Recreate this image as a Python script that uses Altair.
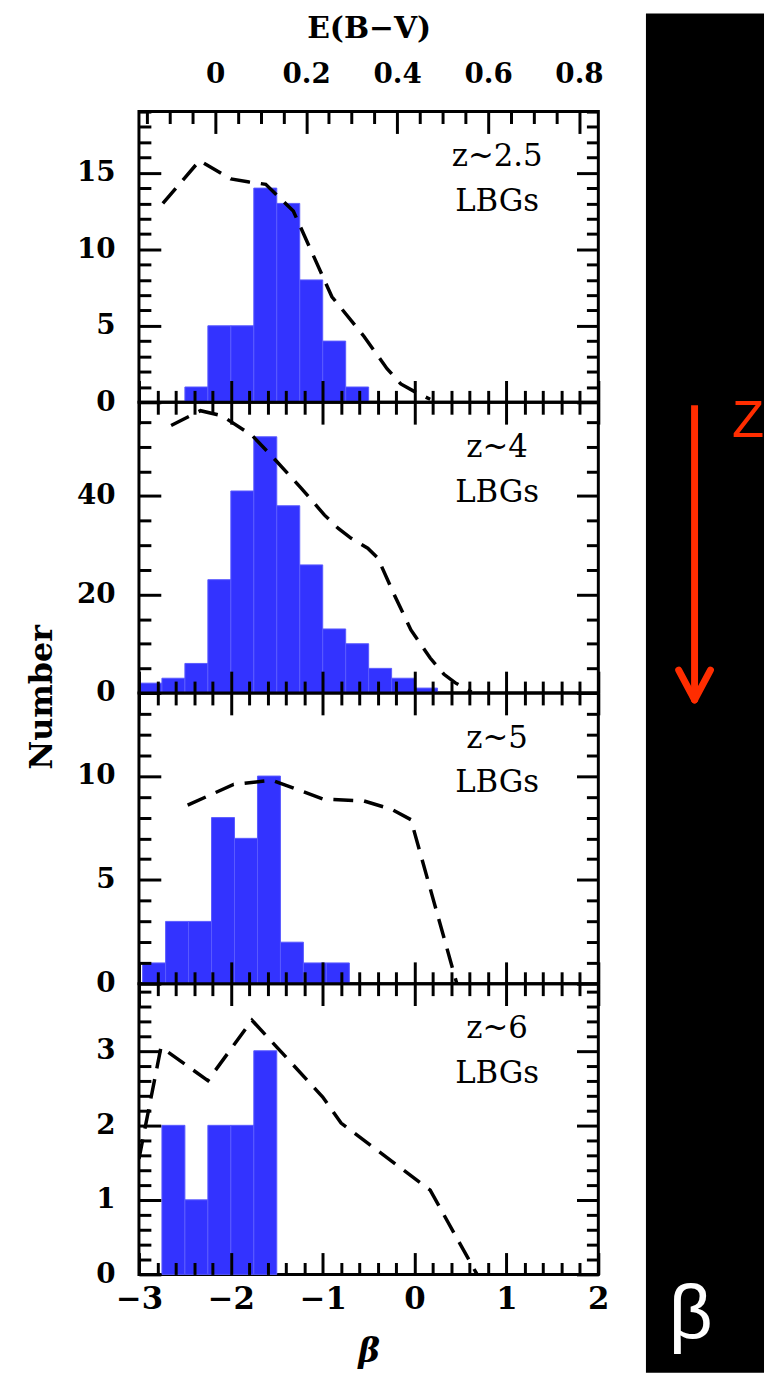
import altair as alt
import pandas as pd

# ---------------- data ----------------
BIN_WIDTH = 0.25

z25_bin_lo = [-2.5, -2.25, -2.0, -1.75, -1.5, -1.25, -1.0, -0.75]
z25_count = [1, 5, 5, 14, 13, 8, 4, 1]
z25_line_beta = [-2.74, -2.34, -2.0, -1.8, -1.62, -1.32, -0.9, -0.55, -0.3, -0.15, 0.0, 0.17]
z25_line_num = [13.0, 15.8, 14.6, 14.4, 14.25, 12.5, 6.9, 4.3, 2.2, 1.2, 0.7, 0.2]

z4_bin_lo = [-3.0, -2.75, -2.5, -2.25, -2.0, -1.75, -1.5, -1.25, -1.0, -0.75, -0.5, -0.25, 0.0]
z4_count = [2, 3, 6, 23, 41, 52, 38, 26, 13, 10, 5, 3, 1]
z4_line_beta = [-2.65, -2.33, -2.1, -1.77, -1.5, -1.23, -0.98, -0.83, -0.69, -0.51, -0.4,
                -0.22, -0.04, 0.17, 0.32, 0.44, 0.62]
z4_line_num = [54.3, 57.3, 56.3, 52.3, 47.0, 41.5, 36.1, 33.4, 31.4, 29.4, 27.4,
               19.9, 12.8, 7.1, 3.8, 2.1, 0.2]

z5_bin_lo = [-2.96, -2.71, -2.46, -2.21, -1.96, -1.71, -1.46, -1.21, -0.96]
z5_count = [1, 3, 3, 8, 7, 10, 2, 1, 1]
z5_line_beta = [-2.47, -1.97, -1.55, -1.0, -0.55, -0.25, -0.04, 0.46]
z5_line_num = [8.6, 9.6, 9.8, 8.9, 8.8, 8.4, 7.9, 0.0]

z6_bin_lo = [-2.75, -2.5, -2.25, -2.0, -1.75]
z6_count = [2, 1, 2, 2, 3]
z6_line_beta = [-3.0, -2.76, -2.25, -1.77, -1.5, -1.0, -0.8, 0.17, 0.68]
z6_line_num = [1.55, 3.05, 2.6, 3.41, 3.05, 2.38, 2.03, 1.13, 0.0]

panel_labels = [["z~2.5", "LBGs"], ["z~4", "LBGs"], ["z~5", "LBGs"], ["z~6", "LBGs"]]
y_max = [19, 59, 14, 3.9]
y_major = [[0, 5, 10, 15], [0, 20, 40], [0, 5, 10], [0, 1, 2, 3]]
y_major_step = [5, 20, 5, 1]
y_minor_step = [1, 5, 1, 0.2]
beta_major = [-3, -2, -1, 0, 1, 2]
beta_domain = [-3, 2]
ebv_major = [0, 0.2, 0.4, 0.6, 0.8]
# E(B-V) <-> beta conversion
EBV0_BETA = -2.17      # beta at E(B-V)=0
BETA_PER_EBV = 4.95    # beta units per unit E(B-V)

bins = [(z25_bin_lo, z25_count), (z4_bin_lo, z4_count), (z5_bin_lo, z5_count), (z6_bin_lo, z6_count)]
lines = [(z25_line_beta, z25_line_num), (z4_line_beta, z4_line_num),
         (z5_line_beta, z5_line_num), (z6_line_beta, z6_line_num)]

# ---------------- style ----------------
W = 463
H = 293
BLUE = "#3333ff"
RED = "#ff2d00"
SERIF = "DejaVu Serif"


def steps(lo, hi, step):
    n = int(round((hi - lo) / step))
    return [round(lo + k * step, 4) for k in range(n + 1)]


beta_ticks = steps(-3, 2, 0.2)
ebv_tick_vals = steps(-0.15, 0.8, 0.05)
ebv_ticks_beta = [round(EBV0_BETA + e * BETA_PER_EBV, 4) for e in ebv_tick_vals]
ebv_major_beta = [round(EBV0_BETA + e * BETA_PER_EBV, 4) for e in ebv_major]
EBV_EXPR = f"((datum.value - ({EBV0_BETA})) / {BETA_PER_EBV})"


def tsize(expr_val, major):
    return {"condition": {"test": f"abs({expr_val} / {major} - round({expr_val} / {major})) < 0.001",
                          "value": 22}, "value": 12}


def tick_axis(orient, offset, values, size):
    return alt.Axis(orient=orient, offset=offset, values=values, labels=False, domain=False,
                    grid=False, ticks=True, tickSize=size, tickWidth=3,
                    tickColor="black", title=None, zindex=2)


def side_decor():
    # black strip on the right with the red redshift arrow, "Z" and "β"
    one = alt.Chart(pd.DataFrame({"k": [0]}))
    bg = one.mark_rect(color="black").encode(
        x=alt.value(511), x2=alt.value(630), y=alt.value(-99), y2=alt.value(1271))
    shaft = one.mark_rule(color=RED, strokeWidth=7).encode(
        x=alt.value(560), y=alt.value(296), y2=alt.value(593))
    head_l = one.mark_rule(color=RED, strokeWidth=7, strokeCap="round").encode(
        x=alt.value(544), x2=alt.value(560), y=alt.value(563), y2=alt.value(593))
    head_r = one.mark_rule(color=RED, strokeWidth=7, strokeCap="round").encode(
        x=alt.value(576), x2=alt.value(560), y=alt.value(563), y2=alt.value(593))
    ztxt = one.mark_text(font="Liberation Sans", fontSize=53, color=RED, align="center",
                         baseline="middle").encode(x=alt.value(614), y=alt.value(312), text=alt.value("Z"))
    btxt = one.mark_text(font="Liberation Sans", fontSize=77, color="white", align="center",
                         baseline="alphabetic").encode(x=alt.value(556), y=alt.value(1236),
                                                       text=alt.value("β"))
    return [bg, shaft, head_l, head_r, ztxt, btxt]


def panel(i):
    lo, cnt = bins[i]
    bdf = pd.DataFrame({"b": lo, "v": cnt})
    bdf["hi"] = bdf["b"] + BIN_WIDTH
    lb, ln = lines[i]
    ldf = pd.DataFrame({"b": lb, "v": ln})
    xs = alt.Scale(domain=beta_domain, nice=False, zero=False)
    ys = alt.Scale(domain=[0, y_max[i]], nice=False, zero=True)
    yticks = steps(0, y_max[i], y_minor_step[i])
    ysize = tsize("datum.value", y_major_step[i])
    xsize = tsize("datum.value", 1)
    last = i == 3

    if last:
        x_lab = alt.Axis(orient="bottom", values=beta_major, labels=True, ticks=False, tickSize=0,
                         domain=False, grid=False, labelFlush=False, labelOverlap=False,
                         labelPadding=10, labelFont=SERIF, labelFontSize=31, labelFontWeight="bold",
                         labelColor="black", format="d", title="β", titleFont=SERIF,
                         titleFontSize=33, titleFontStyle="italic", titleFontWeight="bold",
                         titlePadding=22, titleColor="black")
    else:
        x_lab = None
    ykw = dict(orient="left", values=y_major[i], labels=True, ticks=False, tickSize=0, domain=False,
               grid=False, labelFlush=False, labelOverlap=False, labelPadding=24, labelFont=SERIF,
               labelFontSize=28, labelFontWeight="bold", labelColor="black")
    if i == 1:
        y_lab = alt.Axis(title="Number", titleFont=SERIF, titleFontSize=32, titleFontWeight="bold",
                         titleColor="black", titleX=-81, titleY=H + 4, **ykw)
    else:
        y_lab = alt.Axis(title=None, **ykw)

    bars = alt.Chart(bdf).mark_rect(color=BLUE, stroke="#5a5aff", strokeWidth=1).encode(
        x=alt.X("b:Q", scale=xs, axis=x_lab),
        x2="hi:Q",
        y=alt.Y("v:Q", scale=ys, axis=y_lab),
        y2=alt.datum(0),
    )
    line = alt.Chart(ldf).mark_line(color="black", strokeWidth=3.5, strokeDash=[20, 11], clip=True).encode(
        x=alt.X("b:Q", scale=xs, axis=tick_axis("top", -H, beta_ticks, xsize)),
        y=alt.Y("v:Q", scale=ys, axis=tick_axis("right", -W, yticks, ysize)),
    )
    if i == 0:
        top_axis = tick_axis("bottom", -H, ebv_ticks_beta, tsize(EBV_EXPR, 0.2))
    else:
        top_axis = tick_axis("bottom", -H, beta_ticks, xsize)
    ghost = alt.Chart(ldf).mark_point(opacity=0).encode(
        x=alt.X("b:Q", scale=xs, axis=top_axis),
        y=alt.Y("v:Q", scale=ys, axis=tick_axis("left", -W, yticks, ysize)),
    )
    txt = alt.Chart(bdf.head(1)).mark_text(font=SERIF, fontSize=31, align="center",
                                           baseline="alphabetic", lineHeight=45, color="black").encode(
        x=alt.value(361), y=alt.value(55), text=alt.value(panel_labels[i]))
    layers = [bars, line, ghost, txt]
    if i == 0:
        e_lab = alt.Chart(ldf).mark_point(opacity=0).encode(
            x=alt.X("b:Q", scale=xs, axis=alt.Axis(
                orient="top", values=ebv_major_beta, labels=True, ticks=False, tickSize=0, domain=False,
                grid=False, labelFlush=False, labelOverlap=False, labelPadding=23,
                labelExpr=f"format({EBV_EXPR}, '.1~f')",
                labelFont=SERIF, labelFontSize=28, labelFontWeight="bold", labelColor="black",
                title="E(B−V)", titleFont=SERIF, titleFontSize=30, titleFontWeight="bold",
                titleColor="black", titlePadding=18)),
            y=alt.Y("v:Q", scale=ys, axis=None))
        layers += [e_lab] + side_decor()
    return alt.layer(*layers).resolve_axis(x="independent", y="independent").properties(width=W, height=H)


chart = alt.vconcat(*[panel(i) for i in range(4)], spacing=0, bounds="flush").properties(
    padding={"left": 16, "top": -2, "right": 0, "bottom": 0}, background="white"
).configure_view(stroke="black", strokeWidth=3)

chart.save("out.html", embed_options={"renderer": "svg", "actions": False})
